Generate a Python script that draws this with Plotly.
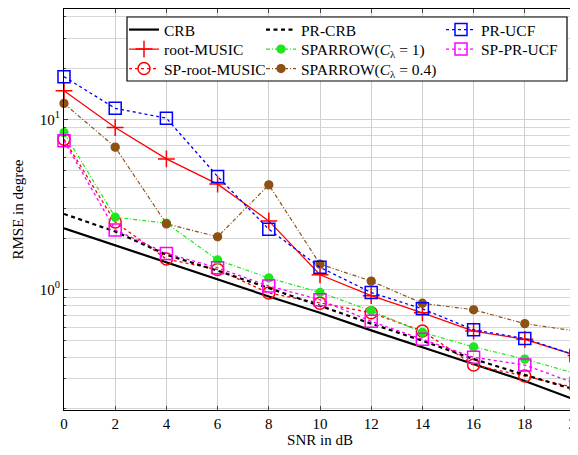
import plotly.graph_objects as go

snr = [0, 2, 4, 6, 8, 10, 12, 14, 16, 18, 20]

crb = [2.29, 1.82, 1.44, 1.14, 0.91, 0.73, 0.575, 0.458, 0.365, 0.29, 0.224]
pr_crb = [2.78, 2.19, 1.60, 1.29, 1.02, 0.80, 0.63, 0.50, 0.39, 0.315, 0.257]
root_music = [14.7, 8.94, 5.85, 4.16, 2.53, 1.22, 0.92, 0.73, 0.57, 0.51, 0.41]
sp_root_music = [7.64, 2.49, 1.51, 1.31, 0.953, 0.83, 0.73, 0.57, 0.36, 0.31, 0.264]
sparrow_1 = [8.35, 2.66, 2.45, 1.49, 1.17, 0.96, 0.75, 0.56, 0.46, 0.39, 0.32]
sparrow_04 = [12.4, 6.86, 2.43, 2.04, 4.12, 1.41, 1.12, 0.83, 0.76, 0.63, 0.57]
pr_ucf = [17.8, 11.6, 10.15, 4.61, 2.26, 1.35, 0.96, 0.77, 0.58, 0.515, 0.41]
sp_pr_ucf = [7.47, 2.24, 1.63, 1.34, 1.05, 0.87, 0.65, 0.51, 0.40, 0.36, 0.28]

y_major = [1, 10]
y_major_text = ["10<sup>0</sup>", "10<sup>1</sup>"]
y_minor = [0.2, 0.3, 0.4, 0.5, 0.6, 0.7, 0.8, 0.9, 2, 3, 4, 5, 6, 7, 8, 9, 20, 30, 40]
x_ticks = [0, 2, 4, 6, 8, 10, 12, 14, 16, 18, 20]

FONT = "Liberation Serif, Times New Roman, serif"
DASH_BLACK = "4px,3.5px"
DASH_COLOR = "3px,3px"
DASH_DOT = "4px,2px,1px,2px"

fig = go.Figure()


def add(name, y, color, dash, width, legend, symbol=None, size=0, mwidth=1.3):
    mode = "lines+markers" if symbol else "lines"
    marker = None
    if symbol:
        marker = dict(symbol=symbol, size=size, color=color,
                      line=dict(color=color, width=mwidth))
    fig.add_trace(go.Scatter(
        x=snr, y=y, name=name, mode=mode,
        line=dict(color=color, dash=dash, width=width),
        marker=marker, legend=legend, cliponaxis=False,
    ))


add("CRB", crb, "black", "solid", 2.2, "legend")
add("root-MUSIC", root_music, "#ff0000", "solid", 1.3, "legend2", "cross-thin-open", 12, 1.5)
add("SP-root-MUSIC", sp_root_music, "#ff0000", DASH_COLOR, 1.3, "legend3", "circle-open", 12, 1.5)
add("PR-CRB", pr_crb, "black", DASH_BLACK, 2.2, "legend4")
add("SPARROW(<i>C</i><sub>λ</sub> = 1)", sparrow_1, "rgb(30,230,30)", DASH_DOT, 1.2, "legend5", "circle", 8)
add("SPARROW(<i>C</i><sub>λ</sub> = 0.4)", sparrow_04, "#8c5214", DASH_DOT, 1.2, "legend6", "circle", 8)
add("PR-UCF", pr_ucf, "#0000ff", DASH_COLOR, 1.3, "legend7", "square-open", 12, 1.5)
add("SP-PR-UCF", sp_pr_ucf, "#ff00ff", DASH_COLOR, 1.3, "legend8", "square-open", 12, 1.5)

# The page body has an 8px margin, so the figure is sized to fit the window.
OFF = 8
W, H = 578 - OFF, 455 - OFF
PL, PR_, PT, PB = 64, 576, 9, 410          # plot area in window pixels
L, T = PL - OFF, PT - OFF
R = W - (PR_ - OFF)
B = H - (PB - OFF)
pw, ph = PR_ - PL, PB - PT


def px_x(p):
    return (p - PL) / pw


def px_y(p):
    return 1 - (p - PT) / ph


col_x = [px_x(124), px_x(261), px_x(441)]
row_y = [px_y(30), px_y(49.5), px_y(69)]
positions = {
    "legend": (0, 0), "legend2": (0, 1), "legend3": (0, 2),
    "legend4": (1, 0), "legend5": (1, 1), "legend6": (1, 2),
    "legend7": (2, 0), "legend8": (2, 1),
}
leg_layout = {}
for key, (c, r) in positions.items():
    leg_layout[key] = dict(
        x=col_x[c], y=row_y[r], xanchor="left", yanchor="middle",
        bgcolor="rgba(0,0,0,0)", borderwidth=0,
        font=dict(family=FONT, size=15.5, color="black"),
        itemwidth=30, tracegroupgap=0,
    )

fig.update_layout(
    width=W, height=H,
    margin=dict(l=L, r=R, t=T, b=B, pad=0, autoexpand=False),
    paper_bgcolor="white", plot_bgcolor="white",
    font=dict(family=FONT, size=15, color="black"),
    showlegend=True,
    **leg_layout,
    shapes=[dict(type="rect", xref="paper", yref="paper",
                 x0=px_x(127), x1=px_x(567), y0=px_y(81), y1=px_y(17),
                 line=dict(color="black", width=1.2), fillcolor="white",
                 layer="above")],
)

fig.update_xaxes(
    range=[0, 20], tickvals=x_ticks, ticks="inside", ticklen=4,
    showgrid=True, gridcolor="#cfcfcf", gridwidth=1,
    showline=True, linecolor="black", linewidth=1.2, mirror="ticks",
    zeroline=False, automargin=False, ticklabeloverflow="allow",
    title=dict(text="SNR in dB", font=dict(family=FONT, size=15), standoff=3),
    tickfont=dict(family=FONT, size=15),
)
fig.update_yaxes(
    type="log", range=[-0.708, 1.648],
    tickvals=y_major, ticktext=y_major_text, ticks="inside", ticklen=4,
    showgrid=True, gridcolor="#cfcfcf", gridwidth=1,
    minor=dict(tickvals=y_minor, showgrid=True, gridcolor="#d6d6d6",
               gridwidth=1, ticks="inside", ticklen=2),
    showline=True, linecolor="black", linewidth=1.2, mirror="ticks",
    zeroline=False, automargin=False,
    title=dict(text="RMSE in degree", font=dict(family=FONT, size=15), standoff=12),
    tickfont=dict(family=FONT, size=15),
)

fig.write_html("out.html")
